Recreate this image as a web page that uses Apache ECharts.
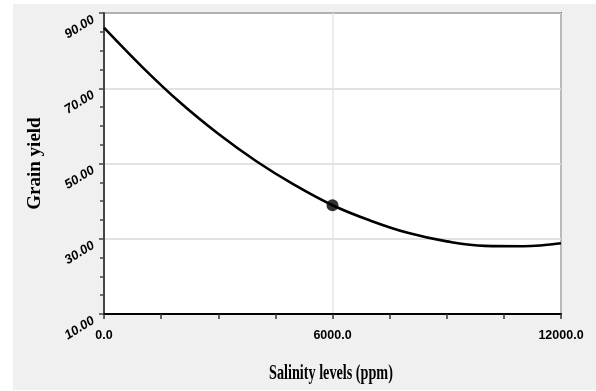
<!DOCTYPE html>
<html>
<head>
<meta charset="utf-8">
<script src="https://cdn.jsdelivr.net/npm/echarts@6/dist/echarts.min.js"></script>
<style>
  html, body { margin: 0; padding: 0; background: #fff; }
  #wrap { width: 596px; height: 391px; position: relative; }
  #chart { position: absolute; left: 13px; top: 4px; width: 583px; height: 386px; background: #f0f0f0; }
</style>
</head>
<body>
<div id="wrap"><div id="chart"></div></div>
<script>
// values (salinity in ppm, grain yield)
const salinity = [0, 1000, 2000, 3000, 4000, 5000, 6000, 7000, 8000, 9000, 10000, 11000, 12000];
const grainYield = [86.1, 75.7, 66.2, 57.9, 50.6, 44.3, 38.9, 34.8, 31.5, 29.3, 28.1, 28.0, 28.8];
const markedSalinity = [6000];
const markedYield = [38.9];

const xTitle = 'Salinity levels (ppm)';
const yTitle = 'Grain yield';

const chart = echarts.init(document.getElementById('chart'), null, { renderer: 'canvas' });

const curve = salinity.map((s, i) => [s, grainYield[i]]);
const marked = markedSalinity.map((s, i) => [s, markedYield[i]]);

chart.setOption({
  animation: false,
  grid: {
    left: 91,
    top: 9,
    right: 35,
    bottom: 76,
    show: true,
    backgroundColor: '#fff',
    borderColor: '#000',
    borderWidth: 1.5,
  },
  xAxis: {
    type: 'value',
    min: 0,
    max: 12000,
    interval: 6000,
    axisLine: { lineStyle: { color: '#000', width: 2 } },
    axisTick: { length: 5, lineStyle: { color: '#333', width: 1.5 } },
    minorTick: { show: true, splitNumber: 4, length: 5, lineStyle: { color: '#333', width: 1.5 } },
    splitLine: { lineStyle: { color: '#e4e4e4', width: 1.5 } },
    axisLabel: {
      margin: 15,
      color: '#000',
      fontFamily: 'Liberation Sans',
      fontWeight: 'bold',
      fontSize: 12.5,
      formatter: (v) => v.toFixed(1),
    },
  },
  yAxis: {
    type: 'value',
    min: 10,
    max: 90,
    interval: 20,
    name: yTitle,
    nameLocation: 'middle',
    nameGap: 59,
    nameTextStyle: {
      fontFamily: 'Liberation Serif',
      fontWeight: 'bold',
      fontSize: 19,
      color: '#000',
    },
    axisLine: { lineStyle: { color: '#444', width: 2 } },
    axisTick: { length: 5, lineStyle: { color: '#444', width: 1.5 } },
    minorTick: { show: true, splitNumber: 4, length: 4, lineStyle: { color: '#444', width: 1.5 } },
    splitLine: { lineStyle: { color: '#d8d8d8', width: 1.5 } },
    axisLabel: {
      rotate: 32,
      margin: 14,
      verticalAlign: 'top',
      color: '#000',
      fontFamily: '"Liberation Sans Narrow", "Liberation Sans"',
      fontWeight: 'bold',
      fontStyle: 'italic',
      fontSize: 13,
      formatter: (v) => v.toFixed(2),
    },
  },
  graphic: [
    {
      type: 'text',
      x: 318,
      y: 370,
      scaleX: 0.71,
      style: {
        text: xTitle,
        font: 'bold 20px "Liberation Serif"',
        fill: '#000',
        textAlign: 'center',
        textVerticalAlign: 'middle',
      },
    },
  ],
  series: [
    {
      type: 'line',
      data: curve,
      smooth: 0.4,
      symbol: 'none',
      lineStyle: { color: '#000', width: 2.6 },
      z: 3,
    },
    {
      type: 'scatter',
      data: marked,
      symbol: 'circle',
      symbolSize: 12,
      itemStyle: { color: '#000' },
      z: 4,
    },
  ],
});
</script>
</body>
</html>
